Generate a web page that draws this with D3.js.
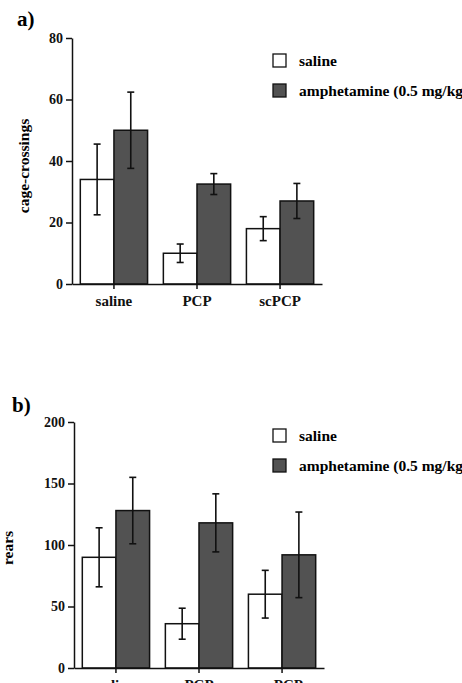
<!DOCTYPE html>
<html>
<head>
<meta charset="utf-8">
<script src="https://cdn.jsdelivr.net/npm/d3@7"></script>
<style>
  body { margin: 0; background: #fff; }
  svg { display: block; font-family: "Liberation Serif", "Times New Roman", serif; font-weight: bold; }
</style>
</head>
<body>
<div id="chart"></div>
<script>
var groups = ["saline", "PCP", "scPCP"];
var series = ["saline", "amphetamine (0.5 mg/kg)"];

// panel a) cage-crossings
var crossSaline = [34, 10, 18];
var crossSalineErr = [11.5, 3, 3.9];
var crossAmph = [50, 32.5, 27];
var crossAmphErr = [12.4, 3.4, 5.7];
var crossTicks = [0, 20, 40, 60, 80];

// panel b) rears
var rearsSaline = [90, 36, 60];
var rearsSalineErr = [24, 12.6, 19.4];
var rearsAmph = [128, 118, 92];
var rearsAmphErr = [27, 23.6, 34.8];
var rearsTicks = [0, 50, 100, 150, 200];

var width = 462, height = 683;
var fills = ["#fff", "#525252"];

var svg = d3.select("#chart").append("svg")
    .attr("width", width)
    .attr("height", height);

function drawPanel(p) {
  var x = d3.scaleBand()
      .domain(groups)
      .range([p.left, 322 + (p.left - 72)])
      .paddingInner(0.19)
      .paddingOuter(0.1);

  var x1 = d3.scaleBand()
      .domain(series)
      .range([0, x.bandwidth()]);

  var y = d3.scaleLinear()
      .domain([0, p.max])
      .range([p.bottom, p.top]);

  var g = svg.append("g");

  // panel letter
  g.append("text")
      .attr("x", p.letterX)
      .attr("y", p.letterY)
      .style("font-size", "21px")
      .text(p.letter);

  // y label
  g.append("text")
      .attr("transform", "translate(" + p.labelX + "," + p.labelY + ") rotate(-90)")
      .attr("text-anchor", "middle")
      .attr("dy", "0.35em")
      .style("font-size", "15.5px")
      .text(p.label);

  var rows = groups.map(function(d, i) {
    return [
      {group: d, s: series[0], v: p.vals[0][i], e: p.errs[0][i]},
      {group: d, s: series[1], v: p.vals[1][i], e: p.errs[1][i]}
    ];
  });
  var flat = [].concat.apply([], rows);

  g.selectAll(".bar")
      .data(flat)
    .enter().append("rect")
      .attr("class", "bar")
      .attr("x", function(d) { return x(d.group) + x1(d.s); })
      .attr("y", function(d) { return y(d.v); })
      .attr("width", x1.bandwidth())
      .attr("height", function(d) { return y(0) - y(d.v); })
      .style("fill", function(d) { return fills[series.indexOf(d.s)]; })
      .style("stroke", "#111")
      .style("stroke-width", 1.5);

  // error bars
  var eb = g.selectAll(".err")
      .data(flat)
    .enter().append("g")
      .attr("class", "err")
      .attr("transform", function(d) { return "translate(" + (x(d.group) + x1(d.s) + x1.bandwidth() / 2) + ",0)"; })
      .style("stroke", "#111")
      .style("stroke-width", 1.6);

  eb.append("line")
      .attr("y1", function(d) { return y(d.v + d.e); })
      .attr("y2", function(d) { return y(d.v - d.e); });
  eb.append("line")
      .attr("x1", -3.5).attr("x2", 3.5)
      .attr("y1", function(d) { return y(d.v + d.e); })
      .attr("y2", function(d) { return y(d.v + d.e); });
  eb.append("line")
      .attr("x1", -3.5).attr("x2", 3.5)
      .attr("y1", function(d) { return y(d.v - d.e); })
      .attr("y2", function(d) { return y(d.v - d.e); });

  // axes
  var ya = g.append("g")
      .attr("transform", "translate(" + p.left + ",0)")
      .call(d3.axisLeft(y).tickValues(p.ticks).tickSize(6).tickSizeOuter(0).tickPadding(3));
  ya.selectAll("text").style("font-size", "14px").style("fill", "#111");

  var xa = g.append("g")
      .attr("transform", "translate(0," + p.bottom + ")")
      .call(d3.axisBottom(x).tickSize(5).tickSizeOuter(0).tickPadding(6));
  xa.selectAll("text").style("font-size", "15px").style("fill", "#111");

  [ya, xa].forEach(function(a) {
    a.attr("font-family", null).attr("font-size", null);
    a.selectAll("path, line").style("stroke", "#111").style("stroke-width", 1.5);
  });

  // legend
  var leg = g.selectAll(".leg")
      .data(series)
    .enter().append("g")
      .attr("class", "leg")
      .attr("transform", function(d, i) { return "translate(273," + (p.legendY + i * 30) + ")"; });
  leg.append("rect")
      .attr("width", 13)
      .attr("height", 13)
      .style("fill", function(d, i) { return fills[i]; })
      .style("stroke", "#111")
      .style("stroke-width", 1.3);
  leg.append("text")
      .attr("x", 26)
      .attr("y", 7)
      .attr("dy", "0.35em")
      .style("font-size", "15.5px")
      .text(function(d) { return d; });
}

drawPanel({
  letter: "a)", letterX: 17, letterY: 26,
  label: "cage-crossings", labelX: 24, labelY: 166,
  left: 72, top: 38, bottom: 284, max: 80, ticks: crossTicks,
  vals: [crossSaline, crossAmph], errs: [crossSalineErr, crossAmphErr],
  legendY: 54
});

drawPanel({
  letter: "b)", letterX: 12, letterY: 412,
  label: "rears", labelX: 8, labelY: 548,
  left: 74, top: 422, bottom: 668, max: 200, ticks: rearsTicks,
  vals: [rearsSaline, rearsAmph], errs: [rearsSalineErr, rearsAmphErr],
  legendY: 429
});
</script>
</body>
</html>
